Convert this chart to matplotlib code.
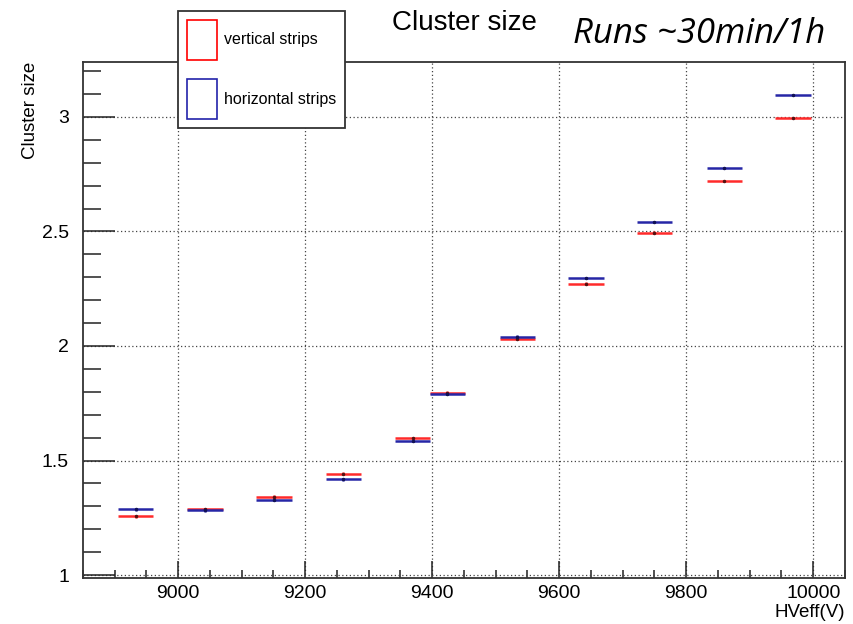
import matplotlib.pyplot as plt
from matplotlib.patches import Patch
from matplotlib.ticker import MultipleLocator

# effective HV of each run and the measured cluster size
hv = [8933, 9042, 9151, 9260, 9369, 9424, 9534, 9642, 9750, 9860, 9968]
cs_vert = [1.256, 1.287, 1.342, 1.442, 1.598, 1.796, 2.030, 2.272, 2.495, 2.720, 2.996]
cs_horiz = [1.287, 1.283, 1.328, 1.418, 1.585, 1.790, 2.040, 2.297, 2.541, 2.777, 3.096]
hv_err = 28
cs_err = 0.006

plt.rcParams['font.family'] = ['Liberation Sans', 'DejaVu Sans']

fig = plt.figure(figsize=(8.54, 6.24), dpi=100)
ax = fig.add_axes([83/854, 1-578/624, 762/854, 516/624])

red = '#ff2a2a'
blue = '#2626a6'
ax.errorbar(hv, cs_vert, xerr=hv_err, yerr=cs_err, fmt='.', ms=3, color=red,
            mfc='#551111', mec='#551111', elinewidth=1.8, capsize=0, zorder=3)
ax.errorbar(hv, cs_horiz, xerr=hv_err, yerr=cs_err, fmt='.', ms=3, color=blue,
            mfc='#111155', mec='#111155', elinewidth=1.8, capsize=0, zorder=3)

ax.set_xlim(8850, 10050)
ax.set_ylim(0.987, 3.24)
ax.xaxis.set_major_locator(MultipleLocator(200))
ax.xaxis.set_minor_locator(MultipleLocator(50))
ax.yaxis.set_major_locator(MultipleLocator(0.5))
ax.yaxis.set_minor_locator(MultipleLocator(0.1))
ax.yaxis.set_major_formatter(plt.FuncFormatter(lambda v, p: '%g' % v))

ax.grid(True, which='major', linestyle=(0, (1, 2)), color='#444444', lw=0.9)
ax.tick_params(which='both', direction='in', top=False, right=False,
               labelsize=14, color='#222222')
ax.tick_params(axis='y', which='major', length=23, width=1.1, pad=10)
ax.tick_params(axis='y', which='minor', length=13, width=1.1)
ax.tick_params(axis='x', which='major', length=12, width=1.1, pad=5)
ax.tick_params(axis='x', which='minor', length=6, width=1.1)
for s in ax.spines.values():
    s.set_linewidth(1.3)
    s.set_color('#333333')

ax.set_ylabel('Cluster size', fontsize=13.5, loc='top')
ax.yaxis.set_label_coords(-0.058, 1.0)
ax.set_xlabel('HVeff(V)', fontsize=13.5, loc='right')
ax.xaxis.set_label_coords(1.0, -0.051)

fig.text(464/854, 1-30/624, 'Cluster size', ha='center', va='baseline', fontsize=20)
fig.text(573/854, 1-43/624, 'Runs ~30min/1h', ha='left', va='baseline',
         fontsize=25, style='italic', family=['Open Sans', 'DejaVu Sans'])

handles = [Patch(facecolor='none', edgecolor='red', lw=1.2, label='vertical strips'),
           Patch(facecolor='none', edgecolor='#2222aa', lw=1.2, label='horizontal strips')]
leg = fig.legend(handles=handles, loc='upper left', bbox_to_anchor=(178/854, 1-11/624),
                 fontsize=11.5, frameon=True, fancybox=False, framealpha=1,
                 edgecolor='#333333', handlelength=1.9, handleheight=3.5,
                 labelspacing=1.2, borderpad=0.55, handletextpad=0.4, borderaxespad=0)
leg.get_frame().set_linewidth(1.3)

fig.savefig('out.png', dpi=100)
